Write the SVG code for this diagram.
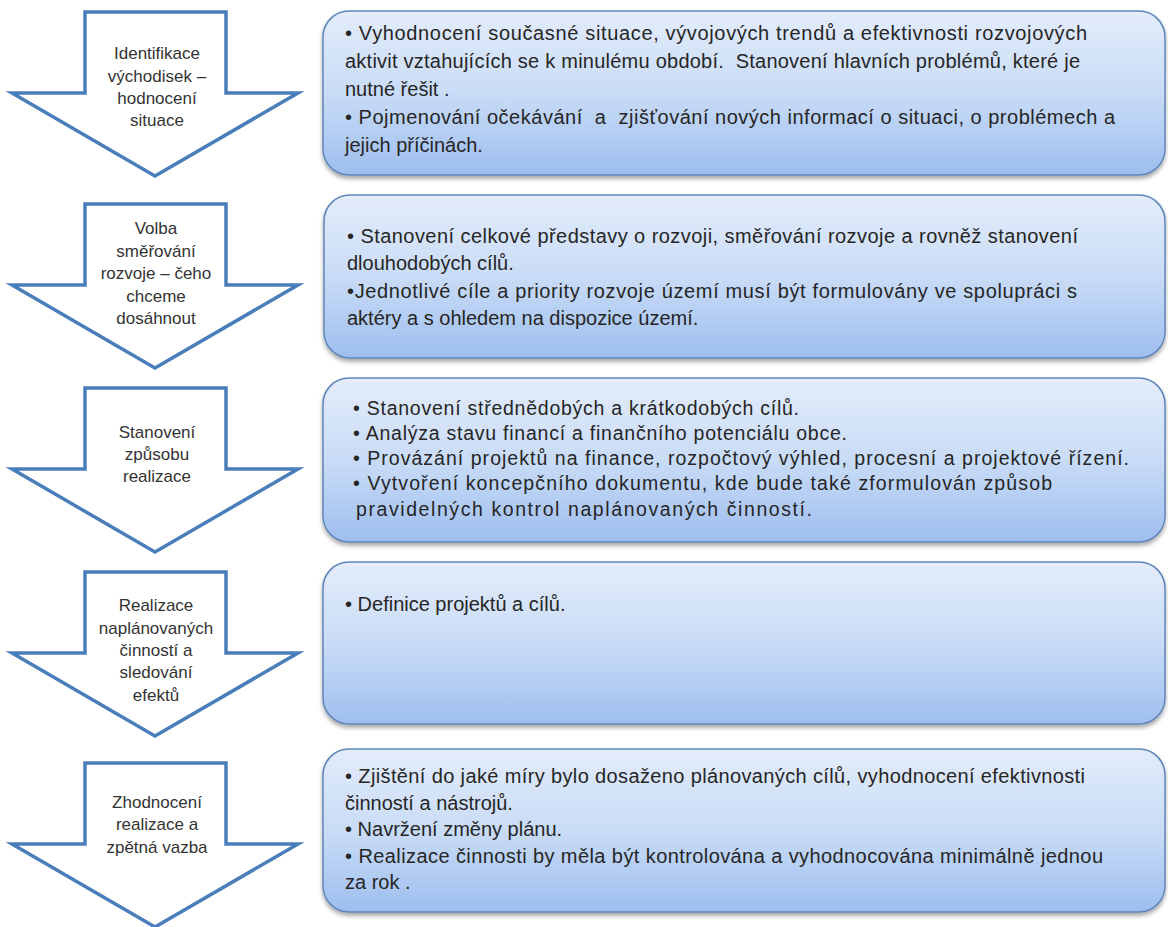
<svg xmlns="http://www.w3.org/2000/svg" width="1168" height="927" viewBox="0 0 1168 927">
<style>
.arrow{fill:#ffffff;stroke:#4a7ebb;stroke-width:3.5;stroke-linejoin:miter}
.lbl{font-family:"Liberation Sans",Arial,sans-serif;font-size:17px;fill:#333333;text-anchor:middle}
.box{fill:url(#bg);stroke:#5f86b8;stroke-width:1.5;filter:url(#sh)}
.txt{font-family:"Liberation Sans",Arial,sans-serif;font-size:20px;fill:#262626}
.txt3{font-family:"Liberation Sans",Arial,sans-serif;font-size:19.5px;fill:#262626}
</style>
<defs>
<linearGradient id="bg" x1="0" y1="0" x2="0" y2="1">
<stop offset="0" stop-color="#e3ecfa"/>
<stop offset="0.5" stop-color="#c9dcf6"/>
<stop offset="1" stop-color="#9ebeef"/>
</linearGradient>
<filter id="sh" x="-5%" y="-10%" width="110%" height="125%">
<feDropShadow dx="0" dy="3" stdDeviation="2" flood-color="#000000" flood-opacity="0.35"/>
</filter>
<path id="arr" d="M85,0 L226,0 L226,81 L298,81 L155,164 L12,81 L85,81 Z"/>
</defs>

<g id="step1">
<use href="#arr" class="arrow" transform="translate(0,12)"/>
<text class="lbl" x="157" y="59">Identifikace</text>
<text class="lbl" x="157" y="82">východisek –</text>
<text class="lbl" x="157" y="104">hodnocení</text>
<text class="lbl" x="157" y="126">situace</text>
</g>
<g id="box1">
<rect class="box" x="323" y="11" width="842" height="164" rx="26" ry="26"/>
<text class="txt" x="345" y="40" textLength="742">• Vyhodnocení současné situace, vývojových trendů a efektivnosti rozvojových</text>
<text class="txt" x="345" y="68" textLength="735">aktivit vztahujících se k minulému období. &#160;Stanovení hlavních problémů, které je</text>
<text class="txt" x="345" y="96">nutné řešit .</text>
<text class="txt" x="345" y="124" textLength="770">• Pojmenování očekávání &#160;a &#160;zjišťování nových informací o situaci, o problémech a</text>
<text class="txt" x="345" y="152">jejich příčinách.</text>
</g>

<g id="step2">
<use href="#arr" class="arrow" transform="translate(0,204)"/>
<text class="lbl" x="156" y="234">Volba</text>
<text class="lbl" x="156" y="257">směřování</text>
<text class="lbl" x="156" y="279">rozvoje – čeho</text>
<text class="lbl" x="156" y="302">chceme</text>
<text class="lbl" x="156" y="324">dosáhnout</text>
</g>
<g id="box2">
<rect class="box" x="324" y="195" width="841" height="163" rx="26" ry="26"/>
<text class="txt" x="347" y="243" textLength="731">• Stanovení celkové představy o rozvoji, směřování rozvoje a rovněž stanovení</text>
<text class="txt" x="347" y="270">dlouhodobých cílů.</text>
<text class="txt" x="347" y="298" textLength="730">•Jednotlivé cíle a priority rozvoje území musí být formulovány ve spolupráci s</text>
<text class="txt" x="347" y="325">aktéry a s ohledem na dispozice území.</text>
</g>

<g id="step3">
<use href="#arr" class="arrow" transform="translate(0,388)"/>
<text class="lbl" x="157" y="438">Stanovení</text>
<text class="lbl" x="157" y="460">způsobu</text>
<text class="lbl" x="157" y="482">realizace</text>
</g>
<g id="box3">
<rect class="box" x="323" y="378" width="842" height="164" rx="26" ry="26"/>
<text class="txt3" x="353" y="415" textLength="446">• Stanovení střednědobých a krátkodobých cílů.</text>
<text class="txt3" x="353" y="440" textLength="494">• Analýza stavu financí a finančního potenciálu obce.</text>
<text class="txt3" x="353" y="465" textLength="776">• Provázání projektů na finance, rozpočtový výhled, procesní a projektové řízení.</text>
<text class="txt3" x="353" y="490" textLength="699">• Vytvoření koncepčního dokumentu, kde bude také zformulován způsob</text>
<text class="txt3" x="356" y="516" textLength="456">pravidelných kontrol naplánovaných činností.</text>
</g>

<g id="step4">
<use href="#arr" class="arrow" transform="translate(0,572)"/>
<text class="lbl" x="156" y="611">Realizace</text>
<text class="lbl" x="156" y="634">naplánovaných</text>
<text class="lbl" x="156" y="656">činností a</text>
<text class="lbl" x="156" y="678">sledování</text>
<text class="lbl" x="156" y="701">efektů</text>
</g>
<g id="box4">
<rect class="box" x="323" y="562" width="842" height="162" rx="26" ry="26"/>
<text class="txt" x="345" y="611">• Definice projektů a cílů.</text>
</g>

<g id="step5">
<use href="#arr" class="arrow" transform="translate(0,763)"/>
<text class="lbl" x="157" y="808">Zhodnocení</text>
<text class="lbl" x="157" y="830">realizace a</text>
<text class="lbl" x="157" y="853">zpětná vazba</text>
</g>
<g id="box5">
<rect class="box" x="323" y="749" width="842" height="163" rx="26" ry="26"/>
<text class="txt" x="345" y="783" textLength="740">• Zjištění do jaké míry bylo dosaženo plánovaných cílů, vyhodnocení efektivnosti</text>
<text class="txt" x="345" y="810">činností a nástrojů.</text>
<text class="txt" x="345" y="836">• Navržení změny plánu.</text>
<text class="txt" x="345" y="863" textLength="758">• Realizace činnosti by měla být kontrolována a vyhodnocována minimálně jednou</text>
<text class="txt" x="345" y="889">za rok .</text>
</g>
<g id="connectors"></g>
</svg>
